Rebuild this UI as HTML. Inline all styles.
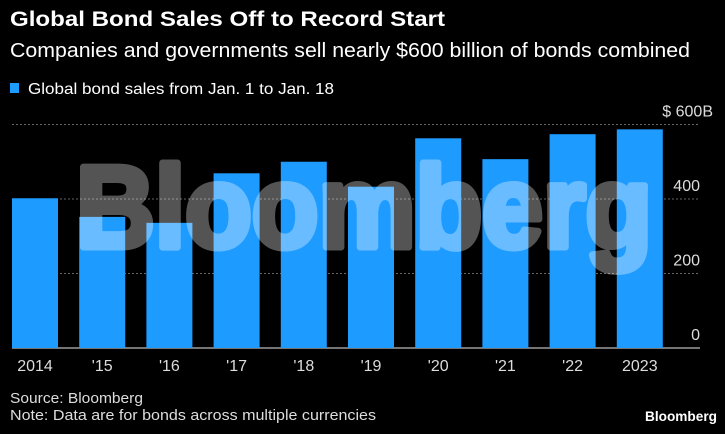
<!DOCTYPE html>
<html><head><meta charset="utf-8">
<style>
html,body{margin:0;padding:0;background:#000;}
svg{display:block;font-family:"Liberation Sans Narrow","Liberation Sans",sans-serif;}
.wm{font-family:"Liberation Sans",sans-serif;font-weight:bold;}
</style></head>
<body>
<svg width="725" height="434" viewBox="0 0 725 434">
<rect x="0" y="0" width="725" height="434" fill="#000"/>
<text x="10" y="26" fill="#fff" font-size="21" font-weight="bold" textLength="435" lengthAdjust="spacingAndGlyphs">Global Bond Sales Off to Record Start</text>
<text x="10" y="57" fill="#fff" font-size="20" textLength="680" lengthAdjust="spacingAndGlyphs">Companies and governments sell nearly $600 billion of bonds combined</text>
<rect x="10" y="83" width="9" height="10" fill="#1e9bff"/>
<text x="28" y="94" fill="#fff" font-size="16" textLength="306" lengthAdjust="spacingAndGlyphs">Global bond sales from Jan. 1 to Jan. 18</text>
<g id="grid"></g>
<g id="bars"></g>
<g opacity="0.33">
<text class="wm" x="76" y="247" fill="#fff" stroke="#fff" stroke-width="7" stroke-linejoin="round" font-size="116" textLength="576" lengthAdjust="spacingAndGlyphs">Bloomberg</text>
</g>
<g id="ticks"></g>
<g id="xlabels"></g>
<text x="10" y="403" fill="#ddd" font-size="15" textLength="133" lengthAdjust="spacingAndGlyphs">Source: Bloomberg</text>
<text x="10" y="420" fill="#ddd" font-size="15" textLength="366" lengthAdjust="spacingAndGlyphs">Note: Data are for bonds across multiple currencies</text>
<text x="717" y="421" fill="#fff" font-size="14" font-weight="bold" text-anchor="end" textLength="72" lengthAdjust="spacingAndGlyphs">Bloomberg</text>
</svg>
<script>
const categories = ["2014","'15","'16","'17","'18","'19","'20","'21","'22","2023"];
const values = [402, 352, 336, 469, 500, 433, 563, 507, 574, 587];
const tickValues = [0, 200, 400, 600];
const tickLabels = ["0", "200", "400", "$ 600B"];

const NS = "http://www.w3.org/2000/svg";
const y0 = 348, pxPer = (348 - 124.5) / 600;
function yScale(v){ return y0 - v * pxPer; }
function xScale(i){ return 35 + i * 67.2; }
const barW = 46;

const grid = document.getElementById('grid');
const ticks = document.getElementById('ticks');
tickValues.forEach((t, i) => {
  const y = yScale(t);
  const l = document.createElementNS(NS, 'line');
  
  
  l.setAttribute('x1', 12); l.setAttribute('x2', 700);
  l.setAttribute('y1', y); l.setAttribute('y2', y);
  if (t === 0) { l.setAttribute('stroke', '#bbb'); l.setAttribute('stroke-width', '1.2'); }
  else { l.setAttribute('stroke', '#666'); l.setAttribute('stroke-dasharray', '2,2'); }
  grid.appendChild(l);
  const tx = document.createElementNS(NS, 'text');
  
  
  tx.setAttribute('x', t === 600 ? 713 : 700);
  tx.setAttribute('y', y - 8);
  tx.setAttribute('fill', '#ddd');
  tx.setAttribute('font-size', '16');
  tx.setAttribute('text-anchor', 'end');
  tx.textContent = tickLabels[i];
  ticks.appendChild(tx);
});

const bars = document.getElementById('bars');
const xl = document.getElementById('xlabels');
categories.forEach((c, i) => {
  const r = document.createElementNS(NS, 'rect');
  
  
  r.setAttribute('x', xScale(i) - barW / 2);
  r.setAttribute('y', yScale(values[i]));
  r.setAttribute('width', barW);
  r.setAttribute('height', y0 - yScale(values[i]));
  r.setAttribute('fill', '#1e9bff');
  bars.appendChild(r);
  const t = document.createElementNS(NS, 'text');
  
  
  t.setAttribute('x', xScale(i));
  t.setAttribute('y', 371);
  t.setAttribute('fill', '#ddd');
  t.setAttribute('font-size', '16');
  t.setAttribute('text-anchor', 'middle');
  t.textContent = c;
  xl.appendChild(t);
});
</script>
</body></html>
